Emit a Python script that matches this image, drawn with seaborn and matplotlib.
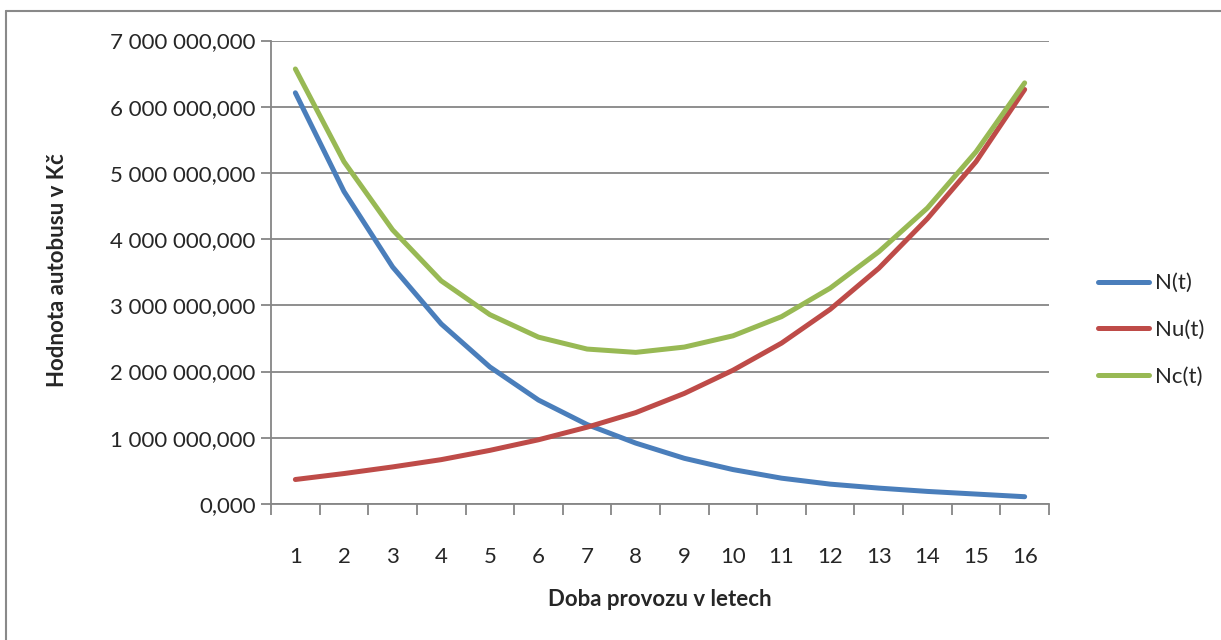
"""Hodnota autobusu v čase: N(t), Nu(t), Nc(t) podle doby provozu."""

import matplotlib
matplotlib.use('Agg')
import matplotlib.pyplot as plt
from matplotlib.ticker import FuncFormatter, MultipleLocator, FixedLocator
import pandas as pd
import seaborn as sns

# ── Data ──────────────────────────────────────────────────────────────────
years = list(range(1, 17))
n_t  = [6.21e6, 4.72e6, 3.58e6, 2.72e6, 2.07e6, 1.57e6, 1.20e6, 0.92e6,
        0.69e6, 0.52e6, 0.39e6, 0.30e6, 0.24e6, 0.19e6, 0.15e6, 0.11e6]
nu_t = [0.37e6, 0.46e6, 0.56e6, 0.67e6, 0.81e6, 0.97e6, 1.16e6, 1.38e6,
        1.67e6, 2.02e6, 2.43e6, 2.94e6, 3.56e6, 4.31e6, 5.17e6, 6.26e6]
nc_t = [6.57e6, 5.17e6, 4.14e6, 3.37e6, 2.86e6, 2.52e6, 2.34e6, 2.29e6,
        2.37e6, 2.54e6, 2.83e6, 3.26e6, 3.81e6, 4.47e6, 5.32e6, 6.36e6]
series_names = ['N(t)', 'Nu(t)', 'Nc(t)']
colors = ['#4A7EBB', '#BE4B48', '#98B954']

df = pd.DataFrame({'rok': years, 'N(t)': n_t, 'Nu(t)': nu_t, 'Nc(t)': nc_t})
long_df = df.melt(id_vars='rok', var_name='serie', value_name='hodnota')

sns.set_style('white')
plt.rcParams['font.family'] = ['Lato', 'DejaVu Sans']


def cz_format(v, _pos):
    s = f'{v:,.3f}'
    return s.replace(',', ' ').replace('.', ',')


fig = plt.figure(figsize=(12.21, 6.40), dpi=100)
ax = fig.add_axes([0.2220, 0.2125, 0.8591 - 0.2220, 0.9367 - 0.2125])

sns.lineplot(data=long_df, x='rok', y='hodnota', hue='serie',
             hue_order=series_names, palette=colors, linewidth=3.6,
             ax=ax, legend=False, solid_capstyle='round')

ax.set_xlim(0.5, 16.5)
ax.set_ylim(0, 7e6)
ax.yaxis.set_major_locator(MultipleLocator(1e6))
ax.yaxis.set_major_formatter(FuncFormatter(cz_format))
ax.xaxis.set_major_locator(FixedLocator(years))
ax.xaxis.set_minor_locator(FixedLocator([y - 0.5 for y in years] + [16.5]))
ax.set_xticklabels([str(y) for y in years])

grid_col = '#868686'
ax.grid(axis='y', color=grid_col, linewidth=1.3)
ax.set_axisbelow(True)
for side in ['top', 'right']:
    ax.spines[side].set_visible(False)
for side in ['left', 'bottom']:
    ax.spines[side].set_color(grid_col)
    ax.spines[side].set_linewidth(1.3)

ax.tick_params(axis='y', which='major', length=7, width=1.3, color=grid_col,
               direction='out', labelsize=16, pad=4, left=True)
ax.tick_params(axis='x', which='major', length=0, labelsize=16, pad=31)
ax.tick_params(axis='x', which='minor', length=8, width=1.3, color=grid_col,
               direction='out', bottom=True)

ax.set_xlabel('')
ax.set_ylabel('')
fig.text(0.5405, 1 - 600 / 640, 'Doba provozu v letech', ha='center', va='center',
         fontsize=16, fontweight='bold')
fig.text(58 / 1221, 1 - 270 / 640, 'Hodnota autobusu v Kč', ha='center', va='center',
         rotation=90, fontsize=16, fontweight='bold')

# ── Legenda ───────────────────────────────────────────────────────────────
handles = [plt.Line2D([], [], color=c, linewidth=3.6, solid_capstyle='round')
           for c in colors]
fig.legend(handles, series_names, loc='center left',
           bbox_to_anchor=(1078 / 1221, 1 - 330 / 640), frameon=False,
           fontsize=16, handlelength=2.3, handletextpad=0.25, labelspacing=1.2)

# ── Rámeček grafu (levý a horní okraj) ──────────────────────────────────
fig.add_artist(plt.Line2D([6 / 1221, 6 / 1221], [0, 1 - 11 / 640],
                          color='#898989', linewidth=1.5))
fig.add_artist(plt.Line2D([6 / 1221, 1], [1 - 11 / 640, 1 - 11 / 640],
                          color='#898989', linewidth=1.5))

fig.savefig('out.png', dpi=100)
plt.close(fig)
